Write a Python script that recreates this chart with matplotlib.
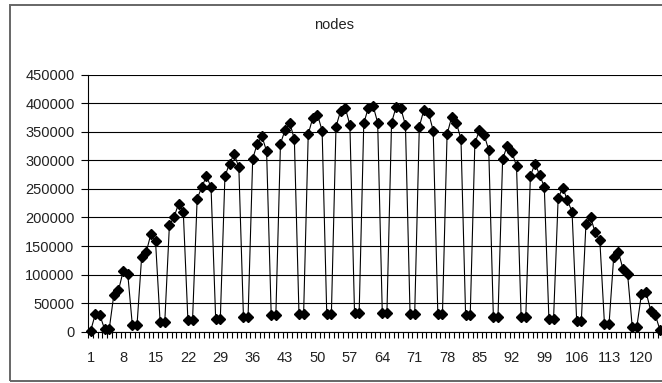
#!/usr/bin/env python

import matplotlib
matplotlib.use('Agg')
import matplotlib.pyplot as plt
from matplotlib.patches import Rectangle
from matplotlib.ticker import FixedLocator, NullFormatter


title = 'nodes'

# one value per run, runs numbered from 1
nodes = [
    2000, 31000, 28500, 4500, 4500, 65000, 72500, 105500, 101500, 11000,
    11000, 130500, 139500, 171000, 159000, 16500, 16500, 186000, 201000, 224000,
    210000, 20000, 20000, 233000, 253000, 272500, 253000, 22000, 22000, 272500,
    294500, 311000, 288000, 26000, 26000, 303000, 329500, 342000, 316000, 29000,
    29000, 329500, 353000, 366000, 337000, 31000, 31000, 346000, 375000, 380000,
    352000, 31000, 31000, 359000, 387000, 392000, 362000, 33000, 33000, 365000,
    392500, 396000, 366000, 33000, 33000, 366000, 394000, 391000, 362000, 31000,
    31000, 359000, 389000, 383000, 352000, 31000, 31000, 346000, 376000, 366000,
    337000, 29000, 29000, 330000, 353000, 345000, 318000, 26000, 26000, 302000,
    326000, 315000, 290000, 25000, 25000, 272500, 294500, 274000, 254000, 22000,
    22000, 234000, 252000, 230000, 210000, 18500, 18500, 188000, 200000, 174000,
    160500, 14000, 14000, 131000, 140000, 110000, 101000, 9000, 9000, 66000,
    69000, 37000, 29000, 3000,
]
runs = list(range(1, len(nodes) + 1))

x_labels = [1, 8, 15, 22, 29, 36, 43, 50, 57, 64, 71, 78, 85, 92, 99, 106, 113, 120]
y_ticks = [0, 50000, 100000, 150000, 200000, 250000, 300000, 350000, 400000, 450000]


def make_figure():
    plt.rcParams['font.family'] = ['Liberation Sans', 'DejaVu Sans']
    fig = plt.figure(figsize=(6.62, 3.83), dpi=100)
    W, H = 662.0, 383.0

    # chart area border (right side runs off the picture)
    fig.patches.append(Rectangle(
        (10 / W, 1 - 381 / H), 700 / W, (381 - 5) / H,
        transform=fig.transFigure, fill=False, edgecolor='#666666', lw=1.4))

    left, right = 88.4 / W, 662.3 / W
    bottom, top = 1 - 331.7 / H, 1 - 74.7 / H
    ax = fig.add_axes([left, bottom, right - left, top - bottom])
    return fig, ax


def draw(ax):
    ax.plot(runs, nodes, color='black', lw=0.8, marker='D', ms=4.6,
            mfc='black', mec='black', clip_on=False, zorder=3)

    ax.set_xlim(0.5, len(nodes) + 0.5)
    ax.set_ylim(0, 450000)

    # y axis
    ax.set_yticks(y_ticks)
    ax.set_yticklabels([str(v) for v in y_ticks])
    ax.tick_params(axis='y', direction='out', length=5, width=0.8,
                   pad=5, labelsize=10.5, color='black', labelcolor='#222222')
    for t, v in zip(ax.yaxis.get_major_ticks(), y_ticks):
        t.gridline.set_visible(0 < v < 450000)
    ax.yaxis.grid(True, color='black', lw=0.8)

    # x axis: tick marks on category borders, labels every 7th run
    ax.xaxis.set_major_locator(FixedLocator([r + 0.5 for r in [0] + runs]))
    ax.xaxis.set_major_formatter(NullFormatter())
    ax.xaxis.set_minor_locator(FixedLocator(x_labels))
    ax.set_xticklabels([str(v) for v in x_labels], minor=True)
    ax.tick_params(axis='x', which='major', direction='out', length=4,
                   width=0.8, color='black')
    ax.tick_params(axis='x', which='minor', length=0, pad=14, labelsize=10.5,
                   labelcolor='#222222')

    for side in ('top', 'right'):
        ax.spines[side].set_visible(False)
    for side in ('left', 'bottom'):
        ax.spines[side].set_color('black')
        ax.spines[side].set_linewidth(0.8)
    ax.set_axisbelow(True)


def main():
    fig, ax = make_figure()
    draw(ax)
    fig.text(334 / 662.0, 1 - 25 / 383.0, title, ha='center', va='center',
             fontsize=10.5, color='#222222')
    fig.savefig('out.png', dpi=100)


if __name__ == "__main__":
    main()
